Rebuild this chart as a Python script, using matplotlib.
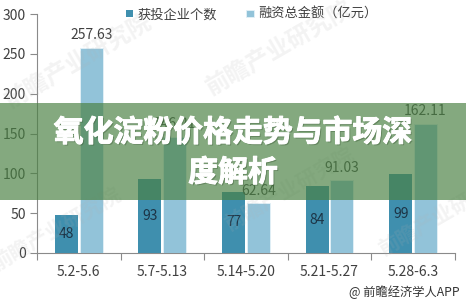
import matplotlib
matplotlib.use("Agg")
import matplotlib.pyplot as plt
import matplotlib.patheffects as pe
from matplotlib.patches import Rectangle
import numpy as np

plt.rcParams['font.family'] = ['Noto Sans CJK SC', 'DejaVu Sans']

categories = ["5.2-5.6", "5.7-5.13", "5.14-5.20", "5.21-5.27", "5.28-6.3"]
company_counts = [48, 93, 77, 84, 99]
funding_total = [257.63, 146.21, 62.64, 91.03, 162.11]
series_names = ["获投企业个数", "融资总金额（亿元）"]
y_ticks = [0, 50, 100, 150, 200, 250, 300]
title_text = "氧化淀粉价格走势与市场深\n度解析"
source_text = "@ 前瞻经济学人APP"
watermark_text = "前瞻产业研究院"

dark_color = "#3f8fae"
light_color = "#92c3d9"
text_gray = "#404040"
axis_gray = "#8a8a8a"

fig = plt.figure(figsize=(4.66, 3.05), dpi=100)
fig.patch.set_facecolor("white")
ax = fig.add_axes([0.0794, 0.1705, 0.8966, 0.7835])

x = np.arange(len(categories))
bar_w = 0.275
off = 0.148
b1 = ax.bar(x - off, company_counts, bar_w, color=dark_color, zorder=3,
            label=series_names[0])
b2 = ax.bar(x + off, funding_total, bar_w, color=light_color, zorder=3,
            label=series_names[1], edgecolor="#e4f1f7", linewidth=0.6)

for rect, v in zip(b1, company_counts):
    ax.text(rect.get_x() + rect.get_width() / 2, v / 2, f"{v}",
            ha="center", va="center", fontsize=10, color="#1c3446", zorder=4)
for rect, v in zip(b2, funding_total):
    ax.text(rect.get_x() + rect.get_width() / 2, v + 7, f"{v:.2f}",
            ha="center", va="bottom", fontsize=10, color=text_gray, zorder=4)

ax.set_xlim(-0.5, len(categories) - 0.5)
ax.set_ylim(0, 300)
ax.set_yticks(y_ticks)
ax.set_yticklabels([str(t) for t in y_ticks], fontsize=10, color=text_gray)
ax.set_xticks(x)
ax.set_xticklabels(categories, fontsize=10, color=text_gray)
ax.set_xticks(np.arange(-0.5, len(categories)), minor=True)
ax.tick_params(axis="x", which="major", length=0, pad=9)
ax.tick_params(axis="x", which="minor", length=5, color=axis_gray, width=0.8)
ax.tick_params(axis="y", length=5, color=axis_gray, width=0.8, pad=3)

for s in ["top", "right"]:
    ax.spines[s].set_visible(False)
for s in ["left", "bottom"]:
    ax.spines[s].set_color(axis_gray)
    ax.spines[s].set_linewidth(0.8)
ax.set_facecolor("none")

leg = fig.legend(handles=[b1, b2], labels=series_names, loc="center",
                 bbox_to_anchor=(0.54, 0.952), ncol=2, frameon=False,
                 fontsize=9.5, handlelength=0.55, handleheight=0.55,
                 handletextpad=0.35, columnspacing=2.2)
for t in leg.get_texts():
    t.set_color(text_gray)

# faint diagonal watermarks
for (wx, wy, fs) in [(0.17, 0.80, 17), (0.60, 0.84, 17), (0.12, 0.25, 15),
                     (0.62, 0.38, 15), (0.95, 0.30, 15)]:
    fig.text(wx, wy, watermark_text, fontsize=fs, color="#b0b0b0",
             alpha=0.15, rotation=30, ha="center", va="center",
             fontweight="bold", zorder=0)

# green translucent banner with the headline
fig.add_artist(Rectangle((0, 1 - 200 / 305), 1, 97 / 305,
                         transform=fig.transFigure,
                         facecolor=(74/255, 129/255, 67/255),
                         alpha=0.68, edgecolor="none", zorder=5))
fig.text(0.5, 1 - 152.5 / 305, title_text, ha="center", va="center",
         fontsize=21.5, fontweight="heavy", color="white", linespacing=1.42,
         zorder=6,
         path_effects=[pe.withSimplePatchShadow(offset=(1, -1), shadow_rgbFace="#3d5c38", alpha=0.45),
                       pe.Stroke(linewidth=0.7, foreground="white"),
                       pe.Normal()])

fig.text(0.987, 1 - 292 / 305, source_text, ha="right", va="center",
         fontsize=8.8, color="#333333")

fig.savefig("out.png", dpi=100)
